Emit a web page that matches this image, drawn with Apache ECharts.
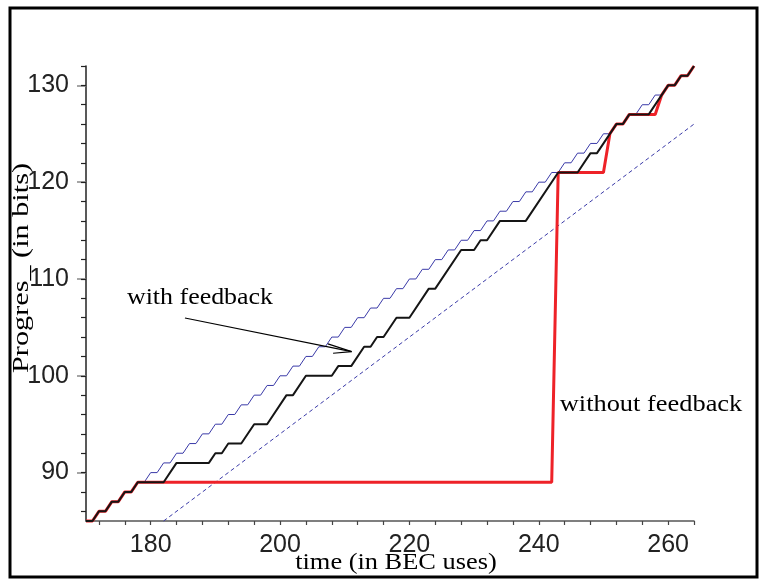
<!DOCTYPE html>
<html>
<head>
<meta charset="utf-8">
<script src="https://cdn.jsdelivr.net/npm/echarts@6/dist/echarts.min.js"></script>
<style>
  html, body { margin: 0; padding: 0; background: #fff; }
  #chart { width: 761px; height: 579px; }
</style>
</head>
<body>
<div id="chart"></div>
<script>
// ---- data (time in BEC uses, progress in bits) ----
const blueTimes = [170,171,172,173,174,175,176,177,178,179,180,181,182,183,184,185,186,187,188,189,
  190,191,192,193,194,195,196,197,198,199,200,201,202,203,204,205,206,207,208,209,
  210,211,212,213,214,215,216,217,218,219,220,221,222,223,224,225,226,227,228,229,
  230,231,232,233,234,235,236,237,238,239,240,241,242,243,244,245,246,247,248,249,
  250,251,252,253,254,255,256,257,258,259,260,261,262,263,264];
const blueValues = [85,85,86,86,87,87,88,88,89,89,90,90,91,91,92,92,93,93,94,94,
  95,95,96,96,97,97,98,98,99,99,100,100,101,101,102,102,103,103,104,104,
  105,105,106,106,107,107,108,108,109,109,110,110,111,111,112,112,113,113,114,114,
  115,115,116,116,117,117,118,118,119,119,120,120,121,121,122,122,123,123,124,124,
  125,125,126,126,127,127,128,128,129,129,130,130,131,131,132];

const feedbackTimes  = [170,171,172,173,174,175,176,177,178,182,184,189,190,191,192,194,196,198,201,202,
  204,208,209,211,213,214,215,216,218,220,223,224,228,230,231,232,234,238,243,246,
  248,249,252,253,254,257,260,261,262,263,264];
const feedbackValues = [85,85,86,86,87,87,88,88,89,89,91,91,92,92,93,93,95,95,98,98,
  100,100,101,101,103,103,104,104,106,106,109,109,113,113,114,114,116,116,121,121,
  123,123,126,126,127,127,130,130,131,131,132];

const noFeedbackTimes  = [170,171,172,173,174,175,176,177,178,242,243,250,251,252,253,254,258,259,260,261,262,263,264];
const noFeedbackValues = [85,85,86,86,87,87,88,88,89,89,121,121,125,126,126,127,127,129,130,130,131,131,132];

const boundTimes  = [182,264];
const boundValues = [85,126];

// arrow annotation (data coordinates): start, tip, wing1, wing2
const arrowStart = [185.3,105.97];
const arrowTip   = [211.07,102.49];
const arrowWing1 = [207.4,103.29];
const arrowWing2 = [208.2,102.33];

// axis ticks / labels
const xLabelValues = [180,200,220,240,260];
const xTickValues  = [172,176,180,184,188,192,196,200,204,208,212,216,220,224,228,232,236,240,244,248,252,256,260,264];
const yLabelValues = [90,100,110,120,130];
const yMinorTickValues = [86,88,90,92,94,96,98,100,102,104,106,108,110,112,114,116,118,120,122,124,126,128,130,132];

const zip = (a, b) => a.map((v, i) => [v, b[i]]);

const chart = echarts.init(document.getElementById('chart'), null, { renderer: 'canvas' });
const serifFont = '"Liberation Serif", "Times New Roman", serif';
const sansFont = '"Liberation Sans", Arial, sans-serif';

chart.setOption({
  animation: false,
  backgroundColor: '#fff',
  grid: { left: 86, right: 67, top: 66, bottom: 58 },
  xAxis: {
    type: 'value', min: 170, max: 264,
    axisLine: { show: true, lineStyle: { color: '#555', width: 1.5 } },
    axisTick: { show: true, customValues: xTickValues, length: 4, lineStyle: { color: '#444', width: 1.2 } },
    axisLabel: { customValues: xLabelValues, fontSize: 25, fontFamily: sansFont, color: '#222', margin: 12 },
    splitLine: { show: false }
  },
  yAxis: [
    {
      type: 'value', min: 85, max: 132,
      axisLine: { show: true, lineStyle: { color: '#222', width: 1.5 } },
      axisTick: { show: true, customValues: yLabelValues, length: 9, lineStyle: { color: '#888', width: 1.5 } },
      axisLabel: { customValues: yLabelValues, fontSize: 25, fontFamily: sansFont, color: '#222', margin: 17, padding: [5, 0, 0, 0] },
      splitLine: { show: false }
    },
    {
      type: 'value', min: 85, max: 132, position: 'left', offset: 0,
      axisLine: { show: false },
      axisTick: { show: true, customValues: yMinorTickValues, length: 5, lineStyle: { color: '#222', width: 1.2 } },
      axisLabel: { show: false },
      splitLine: { show: false }
    }
  ],
  series: [
    {
      type: 'line', data: zip(blueTimes, blueValues), showSymbol: false, clip: false,
      lineStyle: { color: '#3a3aa8', width: 1 }, z: 2
    },
    {
      type: 'line', data: zip(boundTimes, boundValues), showSymbol: false, clip: false,
      lineStyle: { color: '#3a3aa8', width: 1, type: [4, 3] }, z: 2
    },
    {
      type: 'line', data: zip(noFeedbackTimes, noFeedbackValues), showSymbol: false, clip: false,
      lineStyle: { color: '#ee2228', width: 3 }, z: 3
    },
    {
      type: 'line', data: zip(feedbackTimes, feedbackValues), showSymbol: false, clip: false,
      lineStyle: { color: '#151515', width: 2 }, z: 4
    },
    {
      type: 'line', data: [arrowStart, arrowTip], showSymbol: false, clip: false,
      lineStyle: { color: '#000', width: 1.2 }, z: 5
    },
    {
      type: 'line', data: [arrowWing1, arrowTip, arrowWing2], showSymbol: false, clip: false,
      lineStyle: { color: '#000', width: 1.2 }, z: 5
    }
  ],
  graphic: [
    { type: 'rect', silent: true, shape: { x: 10, y: 8, width: 747, height: 569 },
      style: { fill: 'none', stroke: '#000', lineWidth: 3 } },
    { type: 'text', x: 200, y: 298, scaleX: 1.08,
      style: { text: 'with feedback', fontSize: 24, fontFamily: serifFont, fill: '#000', align: 'center', verticalAlign: 'middle' } },
    { type: 'text', x: 651, y: 405, scaleX: 1.1,
      style: { text: 'without feedback', fontSize: 24, fontFamily: serifFont, fill: '#000', align: 'center', verticalAlign: 'middle' } },
    { type: 'text', x: 396, y: 563, scaleX: 1.1,
      style: { text: 'time (in BEC uses)', fontSize: 24, fontFamily: serifFont, fill: '#000', align: 'center', verticalAlign: 'middle' } },
    { type: 'text', x: 22, y: 268, rotation: Math.PI / 2, scaleX: 1.26,
      style: { text: 'Progres_ (in bits)', fontSize: 24, fontFamily: serifFont, fill: '#000', align: 'center', verticalAlign: 'middle' } }
  ]
});
</script>
</body>
</html>
